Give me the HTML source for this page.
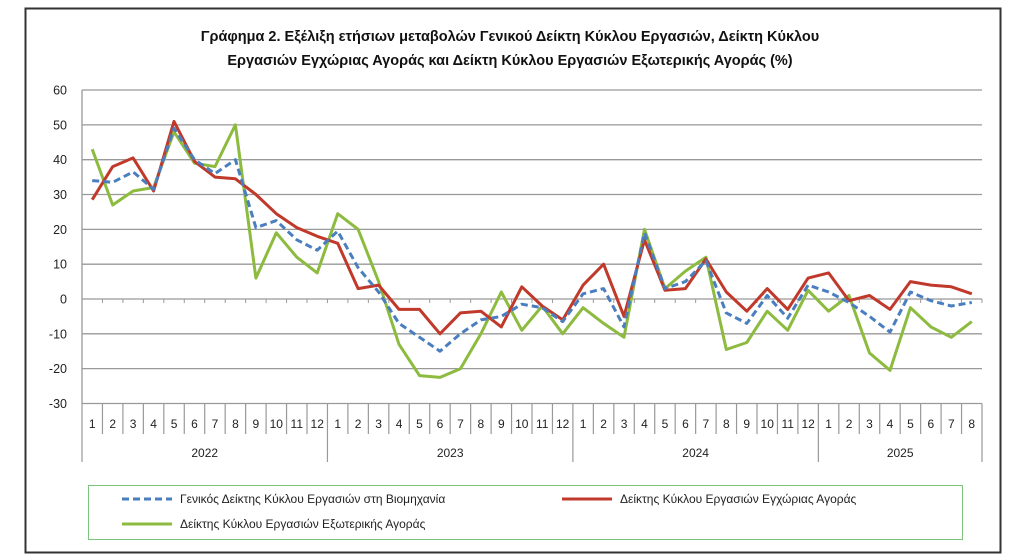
<!DOCTYPE html>
<html><head><meta charset="utf-8"><style>
body{margin:0;background:#fff;width:1024px;height:560px;overflow:hidden}
svg{display:block;font-family:"Liberation Sans","DejaVu Sans",sans-serif}
</style></head><body>
<svg id="s" width="1024" height="560" xmlns="http://www.w3.org/2000/svg">
<rect x="25.5" y="8.5" width="975" height="544" fill="#fff" stroke="#333" stroke-width="2"/>
<text x="510" y="41" font-size="14.5" font-weight="bold" text-anchor="middle" fill="#111">Γράφημα 2. Εξέλιξη ετήσιων μεταβολών Γενικού Δείκτη Κύκλου Εργασιών,  Δείκτη Κύκλου</text>
<text x="510" y="65" font-size="14.5" font-weight="bold" text-anchor="middle" fill="#111">Εργασιών Εγχώριας Αγοράς και Δείκτη Κύκλου Εργασιών Εξωτερικής Αγοράς  (%)</text>
<g id="g"></g>
<rect x="88.5" y="485.5" width="874" height="54" fill="none" stroke="#7cc57c" stroke-width="1"/>
<line x1="122" y1="499" x2="172" y2="499" stroke="#4a7ebf" stroke-width="3" stroke-dasharray="7,4"/>
<text x="180" y="503" font-size="12" fill="#222">Γενικός Δείκτης Κύκλου Εργασιών στη Βιομηχανία</text>
<line x1="562" y1="499" x2="612" y2="499" stroke="#c0392b" stroke-width="3"/>
<text x="620" y="503" font-size="12" fill="#222">Δείκτης Κύκλου Εργασιών  Εγχώριας Αγοράς</text>
<line x1="122" y1="524" x2="172" y2="524" stroke="#8dbb3f" stroke-width="3"/>
<text x="180" y="528" font-size="12" fill="#222">Δείκτης Κύκλου Εργασιών  Εξωτερικής Αγοράς</text>
</svg>
<script>
var G=document.getElementById('g'),h='';
function Y(v){return 299-3.483*v}
var L=82,R=982,W=(R-L)/44;
for(var v=60;v>=-30;v-=10){var y=Y(v);
 if(v!==0)h+='<line x1="'+L+'" y1="'+y+'" x2="'+R+'" y2="'+y+'" stroke="#999" stroke-width="1.3"/>';
 h+='<text x="67" y="'+(y+4.5)+'" font-size="12.5" text-anchor="end" fill="#222">'+v+'</text>';}
h+='<line x1="'+L+'" y1="'+Y(60)+'" x2="'+L+'" y2="'+Y(-30)+'" stroke="#999" stroke-width="1.3"/>';
h+='<line x1="'+L+'" y1="299" x2="'+R+'" y2="299" stroke="#999" stroke-width="1.3"/>';
for(var i=0;i<=44;i++){var x=L+W*i;
 h+='<line x1="'+x+'" y1="299" x2="'+x+'" y2="303" stroke="#999"/>';
 var yr=(i%12===0||i===44);
 h+='<line x1="'+x+'" y1="'+Y(-30)+'" x2="'+x+'" y2="'+(yr?462:434)+'" stroke="#999" stroke-width="1.2"/>';
 if(i<44)h+='<text x="'+(x+W/2)+'" y="428" font-size="12" text-anchor="middle" fill="#222">'+(i%12+1)+'</text>';}
var yrs=[[0,12,'2022'],[12,24,'2023'],[24,36,'2024'],[36,44,'2025']];
yrs.forEach(function(a){h+='<text x="'+(L+W*(a[0]+a[1])/2)+'" y="457" font-size="12" text-anchor="middle" fill="#222">'+a[2]+'</text>';});
var gr=[43,27,31,32,48,39,38,50,6,19,12,7.5,24.5,20,5,-13,-22,-22.5,-20,-10,2,-9,-2,-10,-2.5,-7,-11,20,3,8,12,-14.5,-12.5,-3.5,-9,2.5,-3.5,1,-15.5,-20.5,-2.5,-8,-11,-6.5];
var rd=[28.5,38,40.5,31,51,39.5,35,34.5,30,24.5,20.5,18,16,3,4,-3,-3,-10,-4,-3.5,-8,3.5,-2,-6,4,10,-5,17,2.5,3,11.5,2,-3.5,3,-3,6,7.5,-0.5,1,-3,5,4,3.5,1.5];
var bl=[34,33.5,36.5,31.5,49,40,36,40,20.5,22.5,17,14,19.5,9,2,-7,-11,-15,-10,-6,-5,-1.5,-2.5,-6.5,1.5,3,-8,19,3,5,11,-4,-7,1,-5.5,4,2,-1,-5,-9.5,2,-0.5,-2,-1];
function P(d,c,da){var p=d.map(function(v,i){return (L+W*(i+0.5)).toFixed(1)+','+Y(v).toFixed(1)}).join(' ');
 return '<polyline points="'+p+'" fill="none" stroke="'+c+'" stroke-width="3" stroke-linejoin="round"'+(da?' stroke-dasharray="7,4"':'')+'/>';}
h+=P(gr,'#8dbb3f')+P(rd,'#c0392b')+P(bl,'#4a7ebf',1);
G.innerHTML=h;
</script>
</body></html>
